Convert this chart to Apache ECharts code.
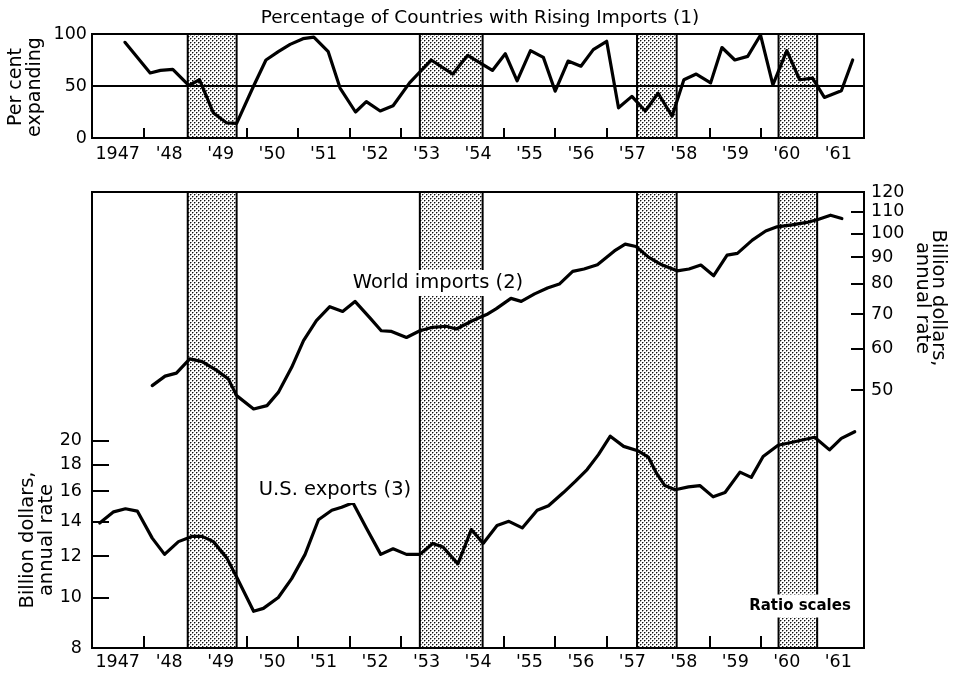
<!DOCTYPE html>
<html>
<head>
<meta charset="utf-8">
<script src="https://cdn.jsdelivr.net/npm/echarts@6/dist/echarts.min.js"></script>
<style>
  html, body { margin: 0; padding: 0; background: #fff; }
  #chart { width: 953px; height: 674px; }
</style>
</head>
<body>
<div id="chart"></div>
<script>
// ---- Calendar axis ----
const yearTicks = [1948, 1949, 1950, 1951, 1952, 1953, 1954, 1955, 1956, 1957, 1958, 1959, 1960, 1961];
const yearLabelYears = [1947, 1948, 1949, 1950, 1951, 1952, 1953, 1954, 1955, 1956, 1957, 1958, 1959, 1960, 1961];
const yearLabels = ['1947', "'48", "'49", "'50", "'51", "'52", "'53", "'54", "'55", "'56", "'57", "'58", "'59", "'60", "'61"];

// Business-cycle contractions (start, end as decimal years)
const contractions = [
  [1948.86, 1949.81],
  [1953.37, 1954.59],
  [1957.59, 1958.36],
  [1960.34, 1961.09]
];

// ---- (1) Percentage of countries with rising imports ----
const pctDates = [1947.64, 1948.13, 1948.33, 1948.57, 1948.88, 1949.09, 1949.36, 1949.62, 1949.81, 1950.14,
  1950.38, 1950.62, 1950.85, 1951.10, 1951.31, 1951.59, 1951.82, 1952.12, 1952.33, 1952.60,
  1952.85, 1953.17, 1953.59, 1954.01, 1954.30, 1954.78, 1955.03, 1955.26, 1955.52, 1955.77,
  1956.00, 1956.25, 1956.50, 1956.74, 1957.00, 1957.23, 1957.49, 1957.75, 1958.00, 1958.27,
  1958.50, 1958.74, 1959.02, 1959.24, 1959.49, 1959.74, 1959.99, 1960.23, 1960.50, 1960.75,
  1961.00, 1961.23, 1961.56, 1961.78];
const pctValues = [92, 62.5, 65, 66, 50.5, 56, 24, 14.5, 14, 50,
  75, 83, 90, 95.5, 97, 83, 48, 25, 35, 26,
  31, 53, 75, 61.5, 79.5, 65, 81, 55, 84, 77.5,
  45, 74, 69, 85, 93, 29, 40, 26, 43, 21,
  56, 61.5, 53, 87, 75, 78.5, 99, 51, 84, 56,
  57.5, 39, 45.5, 75];
const pctReference = 50;

// ---- (2) World imports, billion dollars, annual rate ----
const importsDates = [1948.17, 1948.42, 1948.64, 1948.90, 1949.14, 1949.43, 1949.65, 1949.81, 1950.14, 1950.40,
  1950.62, 1950.88, 1951.11, 1951.36, 1951.62, 1951.87, 1952.11, 1952.40, 1952.62, 1952.82,
  1953.11, 1953.37, 1953.62, 1953.88, 1954.08, 1954.40, 1954.69, 1954.85, 1955.14, 1955.34,
  1955.60, 1955.85, 1956.08, 1956.34, 1956.56, 1956.82, 1957.15, 1957.36, 1957.57, 1957.82,
  1958.08, 1958.37, 1958.60, 1958.83, 1959.08, 1959.34, 1959.54, 1959.83, 1960.09, 1960.31,
  1960.60, 1960.89, 1961.12, 1961.35, 1961.57];
const importsValues = [51.0, 53.2, 53.9, 57.4, 56.7, 54.5, 52.5, 48.8, 46.0, 46.7,
  49.5, 55.3, 62.2, 68.0, 72.3, 70.8, 74.0, 68.8, 65.0, 64.8,
  63.1, 65.0, 66.0, 66.3, 65.5, 68.0, 70.0, 71.6, 75.0, 74.0,
  76.5, 78.5, 79.9, 84.5, 85.4, 87.0, 92.5, 95.3, 94.3, 89.9,
  86.9, 84.7, 85.4, 86.9, 82.9, 90.8, 91.5, 97.0, 101, 102.9,
  103.8, 104.9, 106.4, 108.3, 106.7];

// ---- (3) U.S. exports, billion dollars, annual rate ----
const exportsDates = [1947.15, 1947.42, 1947.65, 1947.88, 1948.17, 1948.41, 1948.68, 1948.94, 1949.14, 1949.36,
  1949.62, 1949.81, 1950.14, 1950.33, 1950.62, 1950.88, 1951.14, 1951.40, 1951.66, 1951.85,
  1952.07, 1952.33, 1952.61, 1952.85, 1953.11, 1953.37, 1953.62, 1953.82, 1954.11, 1954.37,
  1954.60, 1954.87, 1955.10, 1955.36, 1955.65, 1955.87, 1956.16, 1956.39, 1956.62, 1956.84,
  1957.07, 1957.33, 1957.62, 1957.81, 1957.97, 1958.13, 1958.33, 1958.59, 1958.81, 1959.07,
  1959.30, 1959.59, 1959.81, 1960.04, 1960.33, 1960.65, 1961.04, 1961.33, 1961.56, 1961.82];
const exportsValues = [13.9, 14.6, 14.8, 14.65, 13.0, 12.1, 12.8, 13.1, 13.1, 12.8,
  11.9, 10.95, 9.41, 9.53, 10.0, 10.87, 12.1, 14.1, 14.7, 14.9,
  15.2, 13.6, 12.1, 12.4, 12.1, 12.1, 12.7, 12.5, 11.6, 13.5,
  12.7, 13.75, 14.0, 13.6, 14.7, 15.0, 15.9, 16.7, 17.6, 18.8,
  20.4, 19.5, 19.1, 18.6, 17.3, 16.4, 16.1, 16.3, 16.4, 15.6,
  15.9, 17.4, 17.0, 18.65, 19.6, 19.9, 20.3, 19.2, 20.2, 20.8];

// ---- Ratio-scale tick marks ----
const leftTicks = [10, 12, 14, 16, 18, 20];
const leftLabels = [8, 10, 12, 14, 16, 18, 20];
const rightTicks = [50, 60, 70, 80, 90, 100, 110];
const rightLabels = [50, 60, 70, 80, 90, 100, 110, 120];
const pctLabels = [0, 50, 100];

const FONT = '"DejaVu Sans", sans-serif';
const INK = '#000';

// Dotted screen used for the contraction bands
function stippleTile() {
  const c = document.createElement('canvas');
  c.width = 4; c.height = 4;
  const g = c.getContext('2d');
  g.fillStyle = '#fff';
  g.fillRect(0, 0, 4, 4);
  g.fillStyle = '#9a9a9a';
  g.fillRect(1, 0, 1, 1); g.fillRect(0, 1, 1, 1);
  g.fillRect(3, 2, 1, 1); g.fillRect(2, 3, 1, 1);
  g.fillStyle = '#111';
  g.fillRect(0, 0, 1, 1);
  g.fillRect(2, 2, 1, 1);
  return c;
}
const stipple = { image: stippleTile(), repeat: 'repeat' };

const pairs = (xs, ys) => xs.map((x, i) => [x, ys[i]]);

function timeAxis(gridIndex, tickLen, labelMargin) {
  return {
    type: 'value', gridIndex, min: 1947, max: 1962, interval: 1,
    axisLine: { show: false },
    splitLine: { show: false },
    axisTick: {
      show: true, inside: true, length: tickLen, customValues: yearTicks,
      lineStyle: { color: INK, width: 2 }
    },
    axisLabel: {
      customValues: yearLabelYears.map(y => y + 0.5),
      formatter: v => yearLabels[Math.round(v - 1947.5)],
      color: INK, fontFamily: FONT, fontSize: 17.5, margin: labelMargin
    }
  };
}

function bandSeries(xAxisIndex, yAxisIndex) {
  return {
    type: 'line', xAxisIndex, yAxisIndex, data: [], silent: true,
    markArea: {
      silent: true,
      z: 1,
      itemStyle: { color: stipple, borderColor: INK, borderWidth: 2 },
      data: contractions.map(([a, b]) => [{ xAxis: a }, { xAxis: b }])
    }
  };
}

function lineSeries(xAxisIndex, yAxisIndex, data) {
  return {
    type: 'line', xAxisIndex, yAxisIndex, data, z: 5,
    showSymbol: false, silent: true,
    lineStyle: { color: INK, width: 3.2, cap: 'round', join: 'round' }
  };
}

const pctSeries = lineSeries(0, 0, pairs(pctDates, pctValues));
// 50 per cent reference line, drawn over the contraction bands
pctSeries.markLine = {
  silent: true, symbol: 'none', z: 4,
  label: { show: false },
  lineStyle: { color: INK, width: 2, type: 'solid' },
  data: [{ yAxis: pctReference }]
};

const chart = echarts.init(document.getElementById('chart'), null, { renderer: 'canvas' });

chart.setOption({
  animation: false,
  backgroundColor: '#fff',
  grid: [
    { left: 92, right: 89, top: 34, height: 104, show: true, borderColor: INK, borderWidth: 2, backgroundColor: 'transparent', z: 6 },
    { left: 92, right: 89, top: 192, height: 456, show: true, borderColor: INK, borderWidth: 2, backgroundColor: 'transparent', z: 6 }
  ],
  xAxis: [timeAxis(0, 10, 7), timeAxis(1, 12, 5)],
  yAxis: [
    {
      type: 'value', gridIndex: 0, min: 0, max: 100, interval: 50,
      axisLine: { show: false }, axisTick: { show: false }, splitLine: { show: false },
      axisLabel: { customValues: pctLabels, color: INK, fontFamily: FONT, fontSize: 17.5, margin: 5 }
    },
    {
      type: 'log', gridIndex: 1, position: 'left', min: 8, max: 60, logBase: 10,
      axisLine: { show: false }, splitLine: { show: false },
      axisTick: { show: true, inside: true, length: 17, customValues: leftTicks, lineStyle: { color: INK, width: 2 } },
      axisLabel: { customValues: leftLabels, color: INK, fontFamily: FONT, fontSize: 17.5, margin: 10 }
    },
    {
      type: 'log', gridIndex: 1, position: 'right', min: 16, max: 120, logBase: 10,
      axisLine: { show: false }, splitLine: { show: false },
      axisTick: { show: true, inside: true, length: 13, customValues: rightTicks, lineStyle: { color: INK, width: 2 } },
      axisLabel: { customValues: rightLabels, color: INK, fontFamily: FONT, fontSize: 17.5, margin: 7 }
    }
  ],
  series: [
    bandSeries(0, 0),
    bandSeries(1, 1),
    pctSeries,
    lineSeries(1, 2, pairs(importsDates, importsValues)),
    lineSeries(1, 1, pairs(exportsDates, exportsValues))
  ],
  graphic: [
    {
      type: 'text', x: 480, y: 18, z: 20,
      style: { text: 'Percentage of Countries with Rising Imports (1)', font: '18.5px ' + FONT, fill: INK, align: 'center', verticalAlign: 'middle' }
    },
    {
      type: 'text', x: 26, y: 87, rotation: Math.PI / 2, z: 20,
      style: { text: 'Per cent\nexpanding', font: '19px ' + FONT, lineHeight: 19, fill: INK, align: 'center', verticalAlign: 'middle' }
    },
    {
      type: 'text', x: 37, y: 540, rotation: Math.PI / 2, z: 20,
      style: { text: 'Billion dollars,\nannual rate', font: '19.5px ' + FONT, lineHeight: 19, fill: INK, align: 'center', verticalAlign: 'middle' }
    },
    {
      type: 'text', x: 930, y: 298, rotation: -Math.PI / 2, z: 20,
      style: { text: 'Billion dollars,\nannual rate', font: '19.5px ' + FONT, lineHeight: 16, fill: INK, align: 'center', verticalAlign: 'middle' }
    },
    {
      type: 'text', x: 438, y: 283, z: 20,
      style: { text: 'World imports (2)', font: '19.5px ' + FONT, fill: INK, align: 'center', verticalAlign: 'middle', backgroundColor: '#fff', padding: [3, 4] }
    },
    {
      type: 'text', x: 335, y: 490, z: 20,
      style: { text: 'U.S. exports (3)', font: '19.5px ' + FONT, fill: INK, align: 'center', verticalAlign: 'middle', backgroundColor: '#fff', padding: [3, 4] }
    },
    {
      type: 'text', x: 800, y: 606, z: 20,
      style: { text: 'Ratio scales', font: 'bold 15px ' + FONT, fill: INK, align: 'center', verticalAlign: 'middle', backgroundColor: '#fff', padding: [4, 3] }
    }
  ]
});
</script>
</body>
</html>
